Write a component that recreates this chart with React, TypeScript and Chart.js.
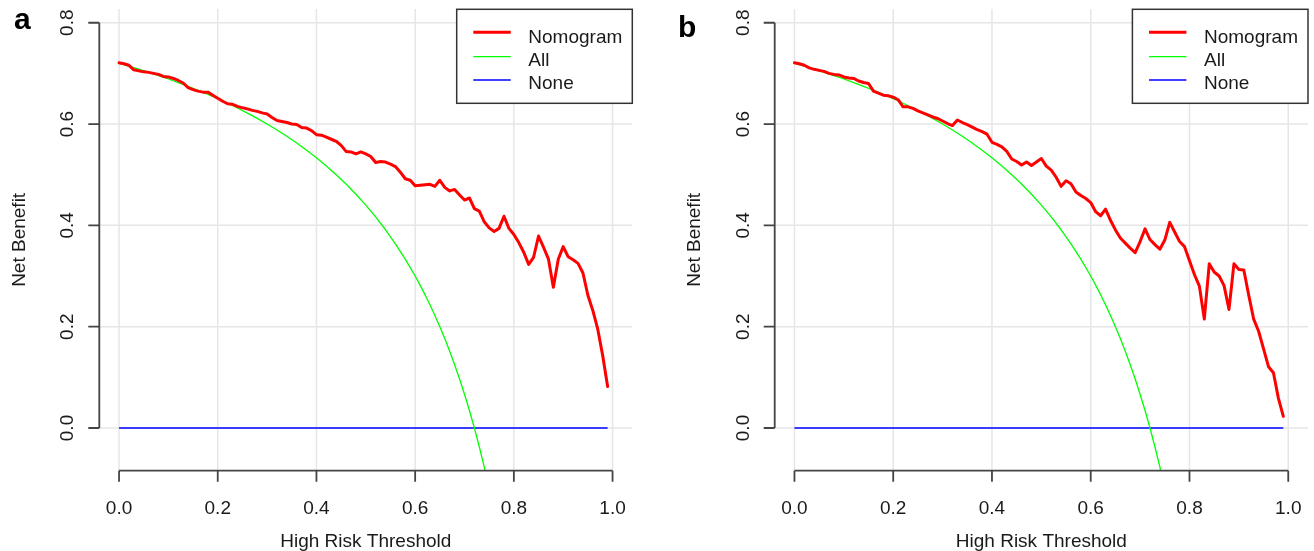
import React, { useEffect, useRef } from "react";
import { Chart, registerables } from "chart.js";

Chart.register(...registerables);

// ---------- data ----------
const thresholds = [
  0, 0.01, 0.02, 0.03, 0.04, 0.05, 0.06, 0.07, 0.08, 0.09,
  0.1, 0.11, 0.12, 0.13, 0.14, 0.15, 0.16, 0.17, 0.18, 0.19,
  0.2, 0.21, 0.22, 0.23, 0.24, 0.25, 0.26, 0.27, 0.28, 0.29,
  0.3, 0.31, 0.32, 0.33, 0.34, 0.35, 0.36, 0.37, 0.38, 0.39,
  0.4, 0.41, 0.42, 0.43, 0.44, 0.45, 0.46, 0.47, 0.48, 0.49,
  0.5, 0.51, 0.52, 0.53, 0.54, 0.55, 0.56, 0.57, 0.58, 0.59,
  0.6, 0.61, 0.62, 0.63, 0.64, 0.65, 0.66, 0.67, 0.68, 0.69,
  0.7, 0.71, 0.72, 0.73, 0.74, 0.75, 0.76, 0.77, 0.78, 0.79,
  0.8, 0.81, 0.82, 0.83, 0.84, 0.85, 0.86, 0.87, 0.88, 0.89,
  0.9, 0.91, 0.92, 0.93, 0.94, 0.95, 0.96, 0.97, 0.98, 0.99,
];

const nomogramA = [
  0.721, 0.719, 0.716, 0.707, 0.705, 0.703, 0.702, 0.7, 0.698, 0.694,
  0.693, 0.69, 0.686, 0.681, 0.672, 0.668, 0.665, 0.663, 0.663, 0.657,
  0.651, 0.645, 0.64, 0.639, 0.635, 0.632, 0.63, 0.627, 0.625, 0.622,
  0.62, 0.613, 0.607, 0.605, 0.603, 0.6, 0.599, 0.593, 0.592, 0.587,
  0.579, 0.578, 0.574, 0.57, 0.566, 0.558, 0.546, 0.545, 0.541, 0.545,
  0.541, 0.536, 0.524, 0.526, 0.525, 0.521, 0.516, 0.505, 0.492, 0.489,
  0.478, 0.479, 0.48, 0.481, 0.477, 0.489, 0.475, 0.468, 0.471, 0.46,
  0.45, 0.454, 0.433, 0.428, 0.407, 0.395, 0.388, 0.394, 0.418, 0.394,
  0.382, 0.366, 0.347, 0.323, 0.337, 0.379, 0.357, 0.334, 0.278, 0.333,
  0.358, 0.338, 0.332, 0.325, 0.306, 0.262, 0.232, 0.195, 0.143, 0.082,
];

const nomogramB = [
  0.721, 0.719, 0.716, 0.711, 0.708, 0.706, 0.704, 0.7, 0.698, 0.697,
  0.693, 0.691, 0.69, 0.685, 0.682, 0.68, 0.665, 0.661, 0.657, 0.656,
  0.653, 0.648, 0.634, 0.634, 0.631, 0.626, 0.622, 0.618, 0.614, 0.611,
  0.606, 0.601, 0.597, 0.608, 0.603, 0.599, 0.594, 0.589, 0.585, 0.58,
  0.564, 0.56, 0.555, 0.546, 0.531, 0.526, 0.519, 0.525, 0.518, 0.525,
  0.532, 0.517, 0.509, 0.495, 0.477, 0.488, 0.482, 0.466, 0.459, 0.453,
  0.445, 0.427, 0.419, 0.432, 0.41, 0.391, 0.375, 0.365, 0.355, 0.346,
  0.368, 0.393, 0.372, 0.362, 0.353, 0.371, 0.406, 0.387, 0.368, 0.358,
  0.33, 0.303, 0.28, 0.215, 0.324, 0.308, 0.3, 0.281, 0.234, 0.324,
  0.313, 0.312, 0.262, 0.215, 0.191, 0.156, 0.121, 0.109, 0.059, 0.023,
];

const allThresholds = [
  0, 0.02, 0.04, 0.06, 0.08, 0.1, 0.12, 0.14, 0.16, 0.18,
  0.2, 0.22, 0.24, 0.26, 0.28, 0.3, 0.32, 0.34, 0.36, 0.38,
  0.4, 0.42, 0.44, 0.46, 0.48, 0.5, 0.52, 0.54, 0.56, 0.58,
  0.6, 0.61, 0.62, 0.63, 0.64, 0.65, 0.66, 0.67, 0.68, 0.69,
  0.7, 0.71, 0.72, 0.73, 0.74, 0.75, 0.76,
];
const allNetBenefit = [
  0.72, 0.7143, 0.7083, 0.7021, 0.6957, 0.6889, 0.6818, 0.6744, 0.6667, 0.6585,
  0.65, 0.641, 0.6316, 0.6216, 0.6111, 0.6, 0.5882, 0.5758, 0.5625, 0.5484,
  0.5333, 0.5172, 0.5, 0.4815, 0.4615, 0.44, 0.4167, 0.3913, 0.3636, 0.3333,
  0.3, 0.2821, 0.2632, 0.2432, 0.2222, 0.2, 0.1765, 0.1515, 0.125, 0.0968,
  0.0667, 0.0345, 0, -0.037, -0.0769, -0.12, -0.1667,
];

const noneThresholds = [0, 0.99];
const noneNetBenefit = [0, 0];

const xTicks = [0, 0.2, 0.4, 0.6, 0.8, 1.0];
const xTickLabels = ["0.0", "0.2", "0.4", "0.6", "0.8", "1.0"];
const yTicks = [0, 0.2, 0.4, 0.6, 0.8];
const yTickLabels = ["0.0", "0.2", "0.4", "0.6", "0.8"];
const seriesNames = ["Nomogram", "All", "None"];
const panelLetters = ["a", "b"];
const xTitle = "High Risk Threshold";
const yTitle = "Net Benefit";

// ---------- styling / layout ----------
const FONT = '"Liberation Sans", Arial, Helvetica, sans-serif';
const CANVAS_H = 551;
const X_MIN = -0.04;
const X_MAX = 1.04;
const Y_MIN = -0.0843;
const Y_MAX = 0.8271;
const COLORS = ["#ff0000", "#00ff00", "#0000ff"];
const WIDTHS = [3, 1.3, 1.4];

const layouts = [
  { left: 0, width: 657, l: 99.3, r: 632.3, t: 9, b: 470.7, letterX: 14, letterY: 29.3 },
  { left: 657, width: 657, l: 117.7, r: 651, t: 9, b: 470.7, letterX: 21, letterY: 36.7 },
];

function toPoints(xs: number[], ys: number[]) {
  return xs.map((x, i) => ({ x, y: ys[i] }));
}

function Panel({ idx, nomogram }: { idx: number; nomogram: number[] }) {
  const ref = useRef<HTMLCanvasElement | null>(null);
  const L = layouts[idx];

  useEffect(() => {
    const canvas = ref.current;
    if (!canvas) return;

    const plugin = {
      id: "rStyle" + idx,
      beforeDatasetsDraw(chart: any) {
        const { ctx, chartArea: a, scales } = chart;
        ctx.save();
        ctx.strokeStyle = "#e6e6e6";
        ctx.lineWidth = 1.5;
        for (const v of xTicks) {
          const x = scales.x.getPixelForValue(v);
          ctx.beginPath();
          ctx.moveTo(x, a.top);
          ctx.lineTo(x, a.bottom);
          ctx.stroke();
        }
        for (const v of yTicks) {
          const y = scales.y.getPixelForValue(v);
          ctx.beginPath();
          ctx.moveTo(a.left, y);
          ctx.lineTo(a.right, y);
          ctx.stroke();
        }
        ctx.restore();
      },
      afterDatasetsDraw(chart: any) {
        const { ctx, chartArea: a, scales } = chart;
        ctx.save();
        // axes
        ctx.strokeStyle = "#444444";
        ctx.lineWidth = 1.8;
        ctx.lineCap = "butt";
        const tl = 11;
        const y0 = scales.y.getPixelForValue(yTicks[0]);
        const y1 = scales.y.getPixelForValue(yTicks[yTicks.length - 1]);
        ctx.beginPath();
        ctx.moveTo(a.left, y0);
        ctx.lineTo(a.left, y1);
        for (const v of yTicks) {
          const y = scales.y.getPixelForValue(v);
          ctx.moveTo(a.left - tl, y);
          ctx.lineTo(a.left, y);
        }
        const x0 = scales.x.getPixelForValue(xTicks[0]);
        const x1 = scales.x.getPixelForValue(xTicks[xTicks.length - 1]);
        ctx.moveTo(x0, a.bottom);
        ctx.lineTo(x1, a.bottom);
        for (const v of xTicks) {
          const x = scales.x.getPixelForValue(v);
          ctx.moveTo(x, a.bottom);
          ctx.lineTo(x, a.bottom + tl);
        }
        ctx.stroke();

        // tick labels
        ctx.fillStyle = "#1a1a1a";
        ctx.font = `19px ${FONT}`;
        ctx.textAlign = "center";
        ctx.textBaseline = "alphabetic";
        xTicks.forEach((v, i) => {
          const x = scales.x.getPixelForValue(v);
          ctx.fillText(xTickLabels[i], x, a.bottom + 43.6);
        });
        yTicks.forEach((v, i) => {
          const y = scales.y.getPixelForValue(v);
          ctx.save();
          ctx.translate(a.left - 26, y);
          ctx.rotate(-Math.PI / 2);
          ctx.fillText(yTickLabels[i], 0, 0);
          ctx.restore();
        });

        // axis titles
        ctx.fillText(xTitle, (a.left + a.right) / 2, a.bottom + 76);
        ctx.save();
        ctx.translate(a.left - 74.3, (a.top + a.bottom) / 2);
        ctx.rotate(-Math.PI / 2);
        ctx.fillText(yTitle, 0, 0);
        ctx.restore();

        // legend
        const bw = 175.6;
        const bh = 94;
        const bx = a.right - bw;
        const by = a.top + 0.3;
        ctx.fillStyle = "#ffffff";
        ctx.fillRect(bx, by, bw, bh);
        ctx.strokeStyle = "#333333";
        ctx.lineWidth = 1.5;
        ctx.strokeRect(bx, by, bw, bh);
        const lineYs = [23, 47.4, 70.7];
        const textYs = [33.4, 56.4, 80];
        seriesNames.forEach((name, i) => {
          ctx.strokeStyle = COLORS[i];
          ctx.lineWidth = WIDTHS[i];
          ctx.beginPath();
          ctx.moveTo(bx + 16.6, by + lineYs[i]);
          ctx.lineTo(bx + 54, by + lineYs[i]);
          ctx.stroke();
          ctx.fillStyle = "#1a1a1a";
          ctx.textAlign = "left";
          ctx.fillText(name, bx + 71.6, by + textYs[i]);
        });

        // panel letter
        ctx.fillStyle = "#000000";
        ctx.font = `bold 30px ${FONT}`;
        ctx.textAlign = "left";
        ctx.fillText(panelLetters[idx], L.letterX, L.letterY);
        ctx.restore();
      },
    };

    const chart = new Chart(canvas, {
      type: "line",
      data: {
        datasets: [
          {
            label: seriesNames[0],
            data: toPoints(thresholds, nomogram),
            borderColor: COLORS[0],
            borderWidth: WIDTHS[0],
            pointRadius: 0,
            borderJoinStyle: "round",
            borderCapStyle: "round",
            fill: false,
          },
          {
            label: seriesNames[1],
            data: toPoints(allThresholds, allNetBenefit),
            borderColor: COLORS[1],
            borderWidth: WIDTHS[1],
            pointRadius: 0,
            borderJoinStyle: "round",
            fill: false,
          },
          {
            label: seriesNames[2],
            data: toPoints(noneThresholds, noneNetBenefit),
            borderColor: COLORS[2],
            borderWidth: WIDTHS[2],
            pointRadius: 0,
            fill: false,
          },
        ],
      },
      options: {
        responsive: false,
        animation: false,
        devicePixelRatio: 1,
        layout: {
          padding: {
            left: L.l,
            right: L.width - L.r,
            top: L.t,
            bottom: CANVAS_H - L.b,
          },
        },
        scales: {
          x: { type: "linear", display: false, min: X_MIN, max: X_MAX },
          y: { type: "linear", display: false, min: Y_MIN, max: Y_MAX },
        },
        plugins: {
          legend: { display: false },
          tooltip: { enabled: false },
        },
        events: [],
      },
      plugins: [plugin],
    } as any);

    return () => chart.destroy();
  }, [idx, nomogram]);

  return (
    <canvas
      ref={ref}
      width={L.width}
      height={CANVAS_H}
      style={{ position: "absolute", left: L.left, top: 0, width: L.width, height: CANVAS_H }}
    />
  );
}

export default function App() {
  return (
    <div
      style={{
        position: "absolute",
        left: 0,
        top: 0,
        width: 1314,
        height: CANVAS_H,
        background: "#ffffff",
        overflow: "hidden",
      }}
    >
      <Panel idx={0} nomogram={nomogramA} />
      <Panel idx={1} nomogram={nomogramB} />
    </div>
  );
}
